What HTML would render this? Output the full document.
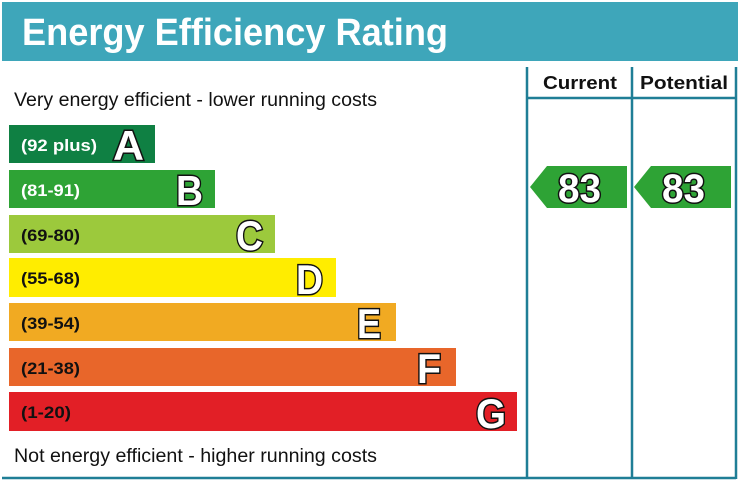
<!DOCTYPE html>
<html><head><meta charset="utf-8"><style>
html,body{margin:0;padding:0;background:#fff;}
svg{display:block;}
</style></head><body>
<svg width="738" height="483" viewBox="0 0 738 483" xmlns="http://www.w3.org/2000/svg" font-family="'Liberation Sans Narrow','Liberation Sans',sans-serif">
<rect x="0" y="0" width="738" height="483" fill="#fff"/>
<rect x="2" y="2" width="736" height="59" fill="#3ea6ba"/>
<text x="22" y="45" font-size="38" font-weight="bold" fill="#fff" textLength="426" lengthAdjust="spacingAndGlyphs">Energy Efficiency Rating</text>
<text x="14" y="106" font-size="19" fill="#111" textLength="363" lengthAdjust="spacingAndGlyphs">Very energy efficient - lower running costs</text>
<text x="14" y="462" font-size="19" fill="#111" textLength="363" lengthAdjust="spacingAndGlyphs">Not energy efficient - higher running costs</text>
<g stroke="#1f7e96" stroke-width="2.5" fill="none">
<line x1="527" y1="67" x2="527" y2="479"/>
<line x1="632" y1="67" x2="632" y2="479"/>
<line x1="736" y1="67" x2="736" y2="479"/>
<line x1="527" y1="98" x2="736" y2="98"/>
<line x1="2" y1="478" x2="736" y2="478"/>
</g>
<text x="580" y="89" font-size="18" font-weight="bold" text-anchor="middle" fill="#111" textLength="74" lengthAdjust="spacingAndGlyphs">Current</text>
<text x="684" y="89" font-size="18" font-weight="bold" text-anchor="middle" fill="#111" textLength="88" lengthAdjust="spacingAndGlyphs">Potential</text>
<g>
<rect x="9" y="125" width="146" height="38" fill="#0f8043"/>
<rect x="9" y="170" width="206" height="38" fill="#2ea335"/>
<rect x="9" y="215" width="266" height="38" fill="#9cc93c"/>
<rect x="9" y="258" width="327" height="39" fill="#ffed00"/>
<rect x="9" y="303" width="387" height="38" fill="#f1aa22"/>
<rect x="9" y="348" width="447" height="38" fill="#e8662a"/>
<rect x="9" y="392" width="508" height="39" fill="#e21f26"/>
</g>
<g font-size="17" font-weight="bold" fill="#111">
<text x="21" y="151" fill="#fff" textLength="76" lengthAdjust="spacingAndGlyphs">(92 plus)</text>
<text x="21" y="196" fill="#fff" textLength="59" lengthAdjust="spacingAndGlyphs">(81-91)</text>
<text x="21" y="241" textLength="59" lengthAdjust="spacingAndGlyphs">(69-80)</text>
<text x="21" y="284" textLength="59" lengthAdjust="spacingAndGlyphs">(55-68)</text>
<text x="21" y="329" textLength="59" lengthAdjust="spacingAndGlyphs">(39-54)</text>
<text x="21" y="374" textLength="59" lengthAdjust="spacingAndGlyphs">(21-38)</text>
<text x="21" y="418" textLength="50" lengthAdjust="spacingAndGlyphs">(1-20)</text>
</g>
<g font-size="42" font-weight="bold" fill="#fff" stroke="#111" stroke-width="3" style="paint-order:stroke">
<text x="113" y="160" textLength="31" lengthAdjust="spacingAndGlyphs">A</text>
<text x="176" y="205" textLength="27" lengthAdjust="spacingAndGlyphs">B</text>
<text x="236" y="250" textLength="27" lengthAdjust="spacingAndGlyphs">C</text>
<text x="296" y="294" textLength="27" lengthAdjust="spacingAndGlyphs">D</text>
<text x="357" y="338" textLength="24" lengthAdjust="spacingAndGlyphs">E</text>
<text x="417" y="383" textLength="24" lengthAdjust="spacingAndGlyphs">F</text>
<text x="476" y="428" textLength="30" lengthAdjust="spacingAndGlyphs">G</text>
</g>
<polygon points="530,187 547,166 627,166 627,208 547,208" fill="#2ea335"/>
<polygon points="634,187 651,166 731,166 731,208 651,208" fill="#2ea335"/>
<g font-size="40" font-weight="bold" fill="#fff" stroke="#111" stroke-width="3" style="paint-order:stroke">
<text x="558" y="202" textLength="43" lengthAdjust="spacingAndGlyphs">83</text>
<text x="662" y="202" textLength="43" lengthAdjust="spacingAndGlyphs">83</text>
</g>
</svg>
</body></html>
